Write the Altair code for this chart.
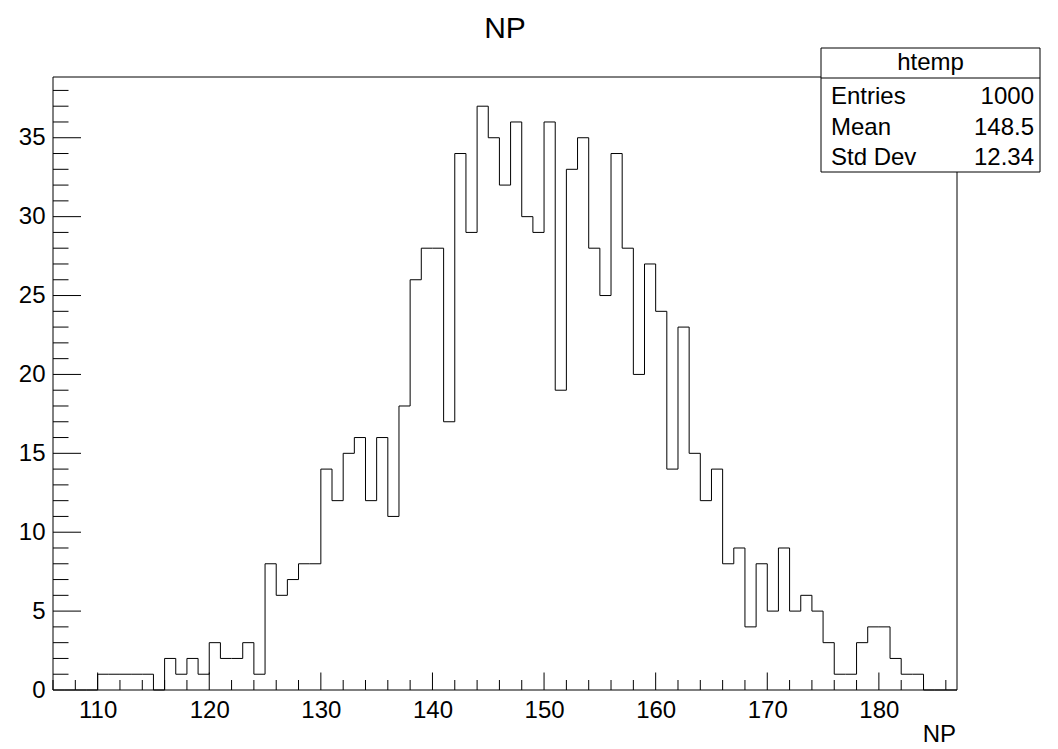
import altair as alt
import pandas as pd

FONT = "Liberation Sans"

# ---- data ----
bin_left = list(range(106, 187))  # bin lower edges, width 1
counts = [0, 0, 0, 0,
          1, 1, 1, 1, 1, 0,
          2, 1, 2, 1,
          3, 2, 2, 3, 1,
          8, 6, 7, 8, 8,
          14, 12, 15, 16, 12,
          16, 11, 18, 26, 28,
          28, 17, 34, 29, 37,
          35, 32, 36, 30, 29,
          36, 19, 33, 35, 28,
          25, 34, 28, 20, 27,
          24, 14, 23, 15, 12,
          14, 8, 9, 4, 8,
          5, 9, 5, 6, 5,
          3, 1, 1, 3, 4,
          4, 2, 1, 1,
          0, 0, 0]
x_upper = 187
x_labels = [110, 120, 130, 140, 150, 160, 170, 180]
y_labels = [0, 5, 10, 15, 20, 25, 30, 35]
x_minor = list(range(106, 187, 2))
y_minor = list(range(1, 39))
title_text = "NP"
x_title = "NP"
stats_title = "htemp"
stat_names = ["Entries", "Mean", "Std Dev"]
stat_values = ["1000", "148.5", "12.34"]

# ---- layout ----
W, H = 904, 613
x_scale = alt.Scale(domain=[106, 187], nice=False, zero=False)
y_scale = alt.Scale(domain=[0, 38.85], nice=False, zero=True)

hist_df = pd.DataFrame({"x": bin_left + [x_upper], "y": counts + [0]})

hist = alt.Chart(hist_df).mark_line(
    interpolate="step-after", color="black", strokeWidth=1
).encode(
    x=alt.X("x:Q", scale=x_scale, title=None,
            axis=alt.Axis(values=x_labels, ticks=False, domain=False, grid=False,
                          labelFontSize=24, labelFont=FONT, labelColor="black",
                          labelPadding=27, labelBaseline="alphabetic", labelFlush=False,
                          labelOverlap=False)),
    y=alt.Y("y:Q", scale=y_scale, title=None,
            axis=alt.Axis(values=y_labels, ticks=False, domain=False, grid=False,
                          labelFontSize=24, labelFont=FONT, labelColor="black",
                          labelPadding=8, labelFlush=False, labelOverlap=False)),
)

one = pd.DataFrame({"a": [0]})

frame = alt.Chart(one).mark_rect(fillOpacity=0, stroke="black", strokeWidth=1).encode(
    x=alt.value(0), x2=alt.value(W), y=alt.value(0), y2=alt.value(H)
)

xmaj_df = pd.DataFrame({"x": [v for v in x_minor if v % 10 == 0]})
xmin_df = pd.DataFrame({"x": [v for v in x_minor if v % 10 != 0]})
ymaj_df = pd.DataFrame({"y": [v for v in y_minor if v % 5 == 0]})
ymin_df = pd.DataFrame({"y": [v for v in y_minor if v % 5 != 0]})

xmaj = alt.Chart(xmaj_df).mark_rule(color="black", strokeWidth=1).encode(
    x=alt.X("x:Q", scale=x_scale, title=None), y=alt.value(H), y2=alt.value(H - 17.5))
xmin = alt.Chart(xmin_df).mark_rule(color="black", strokeWidth=1).encode(
    x=alt.X("x:Q", scale=x_scale, title=None), y=alt.value(H), y2=alt.value(H - 10))
ymaj = alt.Chart(ymaj_df).mark_rule(color="black", strokeWidth=1).encode(
    y=alt.Y("y:Q", scale=y_scale, title=None), x=alt.value(0), x2=alt.value(28))
ymin = alt.Chart(ymin_df).mark_rule(color="black", strokeWidth=1).encode(
    y=alt.Y("y:Q", scale=y_scale, title=None), x=alt.value(0), x2=alt.value(15.5))

# stats box
bx0, bx1, by0, by1, bsep = 768, 987, -29, 95, 1
box = alt.Chart(one).mark_rect(fill="white", stroke="black", strokeWidth=1).encode(
    x=alt.value(bx0), x2=alt.value(bx1), y=alt.value(by0), y2=alt.value(by1))
sep = alt.Chart(one).mark_rule(color="black", strokeWidth=1).encode(
    x=alt.value(bx0), x2=alt.value(bx1), y=alt.value(bsep))
head = alt.Chart(pd.DataFrame({"t": [stats_title]})).mark_text(
    font=FONT, fontSize=24, color="black", align="center", baseline="alphabetic"
).encode(x=alt.value((bx0 + bx1) / 2), y=alt.value(-7), text="t:N")

stat_layers = []
for i, (nm, vl) in enumerate(zip(stat_names, stat_values)):
    yb = 27.3 + i * 30.4
    stat_layers.append(alt.Chart(pd.DataFrame({"t": [nm]})).mark_text(
        font=FONT, fontSize=24, color="black", align="left", baseline="alphabetic"
    ).encode(x=alt.value(778), y=alt.value(yb), text="t:N"))
    stat_layers.append(alt.Chart(pd.DataFrame({"t": [vl]})).mark_text(
        font=FONT, fontSize=24, color="black", align="right", baseline="alphabetic"
    ).encode(x=alt.value(981), y=alt.value(yb), text="t:N"))

title = alt.Chart(pd.DataFrame({"t": [title_text]})).mark_text(
    font=FONT, fontSize=30, color="black", align="center", baseline="alphabetic"
).encode(x=alt.value(W / 2), y=alt.value(-39), text="t:N")

xt = alt.Chart(pd.DataFrame({"t": [x_title]})).mark_text(
    font=FONT, fontSize=24, color="black", align="right", baseline="alphabetic"
).encode(x=alt.value(W - 1), y=alt.value(664.7), text="t:N")

chart = alt.layer(
    frame, hist, xmaj, xmin, ymaj, ymin, box, sep, head, *stat_layers, title, xt
).properties(
    width=W, height=H,
    autosize=alt.AutoSizeParams(type="none"),
    padding={"left": 45, "top": 69, "right": 93, "bottom": 59},
    background="white",
).configure_view(stroke="transparent")

chart.save("out.html", embed_options={"renderer": "svg", "actions": False})
